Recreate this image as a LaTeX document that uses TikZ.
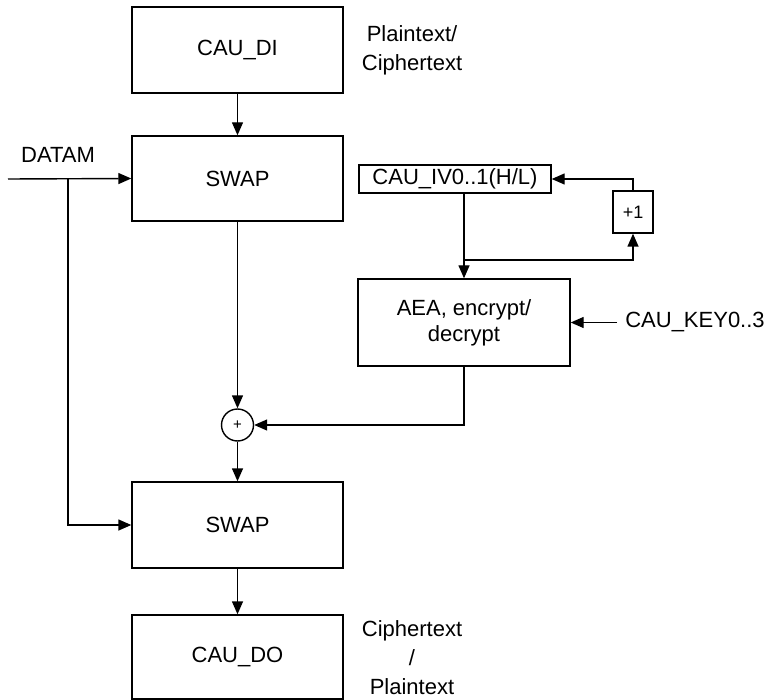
\documentclass[tikz,border=0pt]{standalone}
\usepackage{fontspec}
\setmainfont{Liberation Sans}
\usetikzlibrary{arrows.meta,calc}
\tikzset{
  blk/.style={draw, line width=1.4pt, minimum width=211pt, minimum height=86pt, inner sep=0pt, font=\fontsize{22}{26}\selectfont},
  arr/.style={line width=1.4pt, -{Triangle[length=13pt,width=11pt]}},
  lbl/.style={font=\fontsize{22}{29}\selectfont, align=center, inner sep=0pt},
}
\begin{document}
\begin{tikzpicture}[x=1pt,y=-1pt]
\useasboundingbox (0,0) rectangle (767,700);
\node[blk] (di) at (237.5,50) {CAU\_DI};
\node[blk, minimum height=85pt] (swap1) at (237.5,178.5) {SWAP};
\node[blk] (swap2) at (237.5,525) {SWAP};
\node[blk, minimum height=84pt] (do) at (237.5,657) {CAU\_DO};
\node[blk, minimum width=212pt, minimum height=87pt, align=center, font=\fontsize{22}{26}\selectfont] (aea) at (464,322.5) {AEA, encrypt/\\decrypt};
\node[draw, line width=1.4pt, minimum width=192pt, minimum height=28pt, inner sep=0pt, font=\fontsize{22}{26}\selectfont] (iv) at (455,179) {CAU\_IV0..1(H/L)};
\node[draw, line width=1.4pt, minimum width=40pt, minimum height=42pt, inner sep=0pt, font=\fontsize{18}{20}\selectfont] (plus1) at (633,212) {+1};
\node[draw, circle, line width=1.4pt, minimum size=32pt, inner sep=0pt, font=\fontsize{15}{16}\selectfont] (xor) at (237.5,425) {+};
\node[lbl] (txtin) at (412,50) {Plaintext/\\Ciphertext};
\node[lbl] (txtout) at (412,658) {Ciphertext\\/\\Plaintext};
\node[lbl] (datam) at (58,155) {DATAM};
\node[lbl, inner xsep=8pt] (key) at (695,322.5) {CAU\_KEY0..3};
\coordinate (dstart) at (8,179);
\coordinate (br) at (68,179);
\coordinate (j) at (464,260);
\draw[arr] (di) -- (swap1);
\draw[arr] (dstart) -- (swap1.west);
\draw[arr] (br) |- (swap2.west);
\draw[arr] (swap1) -- (xor);
\draw[arr] (xor) -- (swap2);
\draw[arr] (swap2) -- (do);
\draw[arr] (aea.south) |- (xor.east);
\draw[arr] (iv.south -| aea.north) -- (aea.north);
\draw[arr] (j) -| (plus1.south);
\draw[arr] (plus1.north) |- (iv.east);
\draw[arr] (key.west) -- (key.west -| aea.east);
\end{tikzpicture}
\end{document}
